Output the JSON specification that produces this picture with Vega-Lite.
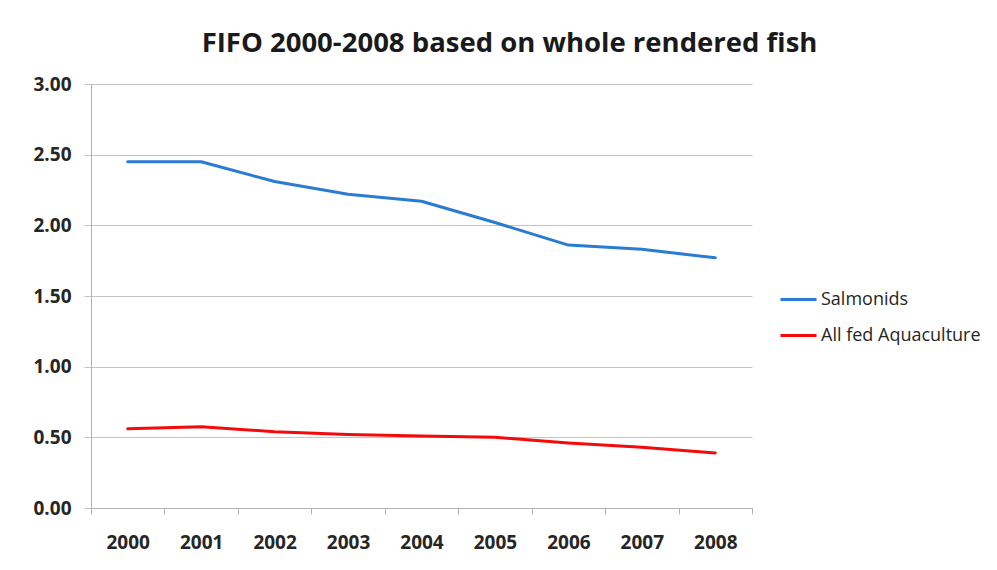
{
  "$schema": "https://vega.github.io/schema/vega-lite/v6.json",
  "autosize": {"type": "none"},
  "width": 661,
  "height": 424,
  "padding": {"left": 91, "top": 84, "right": 245, "bottom": 62},
  "background": "white",
  "title": {
    "text": "FIFO 2000-2008 based on whole rendered fish",
    "font": "Open Sans",
    "fontSize": 27.5,
    "fontWeight": "bold",
    "color": "#1a1a1a",
    "anchor": "middle",
    "dx": 88,
    "offset": 18
  },
  "data": {
    "values": [
      {"year": "2000", "series": "Salmonids", "value": 2.45},
      {"year": "2001", "series": "Salmonids", "value": 2.45},
      {"year": "2002", "series": "Salmonids", "value": 2.31},
      {"year": "2003", "series": "Salmonids", "value": 2.22},
      {"year": "2004", "series": "Salmonids", "value": 2.17},
      {"year": "2005", "series": "Salmonids", "value": 2.02},
      {"year": "2006", "series": "Salmonids", "value": 1.86},
      {"year": "2007", "series": "Salmonids", "value": 1.83},
      {"year": "2008", "series": "Salmonids", "value": 1.77},
      {"year": "2000", "series": "All fed Aquaculture", "value": 0.56},
      {"year": "2001", "series": "All fed Aquaculture", "value": 0.575},
      {"year": "2002", "series": "All fed Aquaculture", "value": 0.54},
      {"year": "2003", "series": "All fed Aquaculture", "value": 0.52},
      {"year": "2004", "series": "All fed Aquaculture", "value": 0.51},
      {"year": "2005", "series": "All fed Aquaculture", "value": 0.5},
      {"year": "2006", "series": "All fed Aquaculture", "value": 0.46},
      {"year": "2007", "series": "All fed Aquaculture", "value": 0.43},
      {"year": "2008", "series": "All fed Aquaculture", "value": 0.39}
    ]
  },
  "mark": {"type": "line", "strokeWidth": 3, "strokeCap": "round", "strokeJoin": "round"},
  "encoding": {
    "x": {
      "field": "year",
      "type": "ordinal",
      "scale": {"type": "band", "paddingInner": 0, "paddingOuter": 0},
      "axis": {
        "title": null,
        "labelAngle": 0,
        "tickBand": "extent",
        "grid": false,
        "ticks": true,
        "tickSize": 6,
        "tickColor": "#b0b0b0",
        "domainColor": "#b0b0b0",
        "labelPadding": 19,
        "labelFont": "Open Sans",
        "labelFontSize": 19,
        "labelFontWeight": "bold",
        "labelColor": "#262626"
      }
    },
    "y": {
      "field": "value",
      "type": "quantitative",
      "scale": {"domain": [0, 3], "nice": false, "zero": true},
      "axis": {
        "title": null,
        "values": [0, 0.5, 1, 1.5, 2, 2.5, 3],
        "format": ".2f",
        "grid": true,
        "gridColor": "#c4c4c4",
        "tickColor": "#c4c4c4",
        "tickSize": 7,
        "domainColor": "#b0b0b0",
        "labelPadding": 13,
        "labelFont": "Open Sans",
        "labelFontSize": 19,
        "labelFontWeight": "bold",
        "labelColor": "#262626"
      }
    },
    "color": {
      "field": "series",
      "type": "nominal",
      "scale": {"domain": ["Salmonids", "All fed Aquaculture"], "range": ["#2a7bd2", "#f50a0a"]},
      "legend": {
        "title": null,
        "orient": "none",
        "legendX": 688,
        "legendY": 196,
        "padding": 0,
        "symbolType": "stroke",
        "symbolSize": 1296,
        "symbolStrokeWidth": 3,
        "labelOffset": 3,
        "rowPadding": 7,
        "labelLimit": 400,
        "labelFont": "Open Sans",
        "labelFontSize": 18,
        "labelColor": "#262626"
      }
    }
  },
  "config": {"view": {"stroke": null}}
}
